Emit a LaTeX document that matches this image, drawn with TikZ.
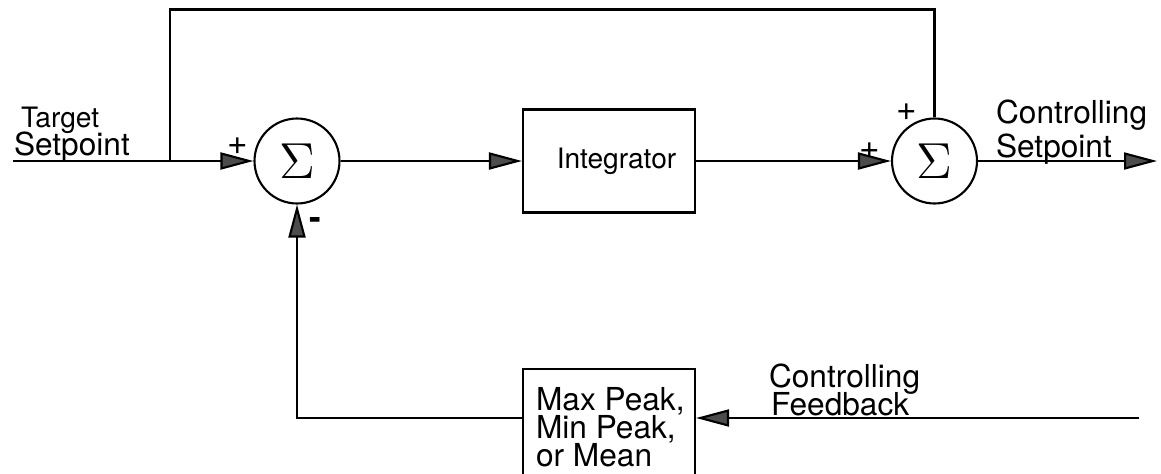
\documentclass[tikz,border=0pt]{standalone}
\usepackage{fontspec}
\setmainfont{TeX Gyre Heros}
\usetikzlibrary{arrows.meta}

\tikzset{
  sumnode/.style={draw, circle, minimum size=8.5mm, inner sep=0pt, font=\fontsize{15}{15}\selectfont},
  blockbox/.style={draw, rectangle, minimum width=17.2mm, minimum height=10.3mm, inner sep=0pt},
  flow/.style={-{Triangle[length=3.3mm,width=1.7mm,fill=black!70]}},
  sgn/.style={font=\fontsize{10}{10}\selectfont, inner sep=0pt},
  lbl/.style={font=\fontsize{9}{9}\selectfont, inner sep=0pt, anchor=base west},
}

\begin{document}
\begin{tikzpicture}[line width=0.6pt]
  \useasboundingbox (0,0) rectangle (11.61,4.73);
  \clip (0,0) rectangle (11.61,4.73);

  % Define the summing junctions and the blocks
  \node[sumnode] (sum1) at (2.97,3.12) {$\Sigma$};
  \node[sumnode] (sum2) at (9.345,3.12) {$\Sigma$};
  \node[blockbox, font=\fontsize{8}{8}\selectfont] (integ) at (6.09,3.12) {\hspace{1.5mm}Integrator};
  \node[blockbox, minimum height=1.3cm, anchor=north] (peak) at (6.09,1.05) {};
  \node[anchor=north west, align=left, inner sep=0pt, font=\fontsize{9}{8}\selectfont] (peaktxt) at (5.35,0.87) {Max Peak,\\Min Peak,\\or Mean};

  % Define the free ends of the signal lines
  \coordinate (in) at (0.13,3.12);
  \coordinate (br) at (1.70,3.12);
  \coordinate (top) at (1.70,4.635);
  \coordinate (out) at (11.57,3.12);
  \coordinate (fb) at (11.39,0.55);

  % Signs at the junction inputs
  \node[sgn] (p1) at (2.38,3.27) {+};
  \node[sgn, font=\fontsize{10}{10}\bfseries] (m1) at (3.15,2.50) {-};
  \node[sgn] (p2) at (9.07,3.61) {+};
  \node[sgn] (p3) at (8.70,3.22) {+};

  % Draw the forward path
  \draw (in) -- (br);
  \draw[flow] (br) -- (sum1);
  \draw[flow] (sum1) -- (integ);
  \draw[flow] (integ) -- (sum2);
  \draw[flow] (sum2) -- (out);

  % Draw the bypass around the integrator
  \draw (br) -- (top) -| (sum2);

  % Draw the feedback path
  \draw[flow] (fb) -- (fb -| peak.east);
  \draw[flow] (fb -| peak.west) -| (sum1);

  % Signal names
  \node[lbl, font=\fontsize{8}{8}\selectfont] (tgt) at (0.20,3.46) {Target};
  \node[lbl] (tsp) at (0.13,3.18) {Setpoint};
  \node[lbl] (ctl1) at (9.95,3.50) {Controlling};
  \node[lbl] (csp) at (9.95,3.16) {Setpoint};
  \node[lbl] (ctl2) at (7.68,0.86) {Controlling};
  \node[lbl] (cfb) at (7.70,0.58) {Feedback};
\end{tikzpicture}
\end{document}
